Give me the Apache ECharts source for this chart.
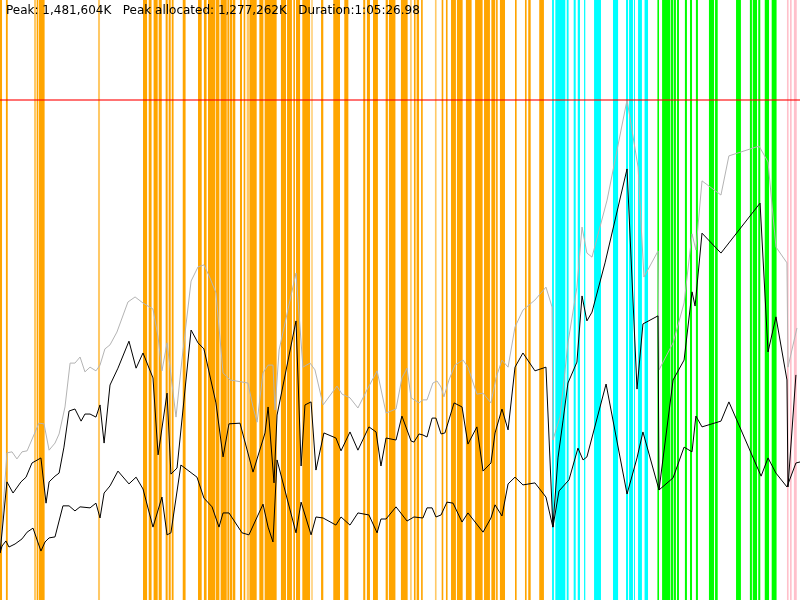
<!DOCTYPE html>
<html>
<head>
<meta charset="utf-8">
<script src="https://cdn.jsdelivr.net/npm/echarts@6/dist/echarts.min.js"></script>
<style>html,body{margin:0;padding:0;background:#fff}#c{width:800px;height:600px}</style>
</head>
<body>
<div id="c"></div>
<script>
// Summary values
const peakTotalMB = 1481.604;
const peakAllocMB = 1277.262;
const durationSec = 3926.98;
const headerTexts = ['Peak: 1,481,604K', 'Peak allocated: 1,277,262K', 'Duration:1:05:26.98'];

// Phase bands [startSec, endSec]
const orangeBands = [[0,10],[29,38],[180,188],[191,219],[702,722],[730,744],[754,774],[779,794],[813,823],[828,838],[843,852],[897,911],[972,990],[1001,1014],[1021,1057],[1060,1077],[1083,1113],[1116,1126],[1129,1139],[1142,1155],[1178,1188],[1196,1204],[1227,1260],[1273,1293],[1299,1358],[1379,1404],[1409,1433],[1440,1448],[1453,1473],[1484,1522],[1576,1587],[1636,1669],[1690,1710],[1783,1793],[1801,1816],[1831,1855],[1893,1904],[1909,1941],[1968,2001],[2032,2040],[2045,2057],[2067,2075],[2168,2176],[2189,2197],[2214,2238],[2243,2271],[2287,2315],[2332,2369],[2376,2405],[2412,2431],[2435,2443],[2454,2479],[2528,2536],[2577,2585],[2593,2605],[2647,2670]];
const faintOrangeBands = [[167,177],[481,491],[1211,1227],[1528,1535],[2013,2021],[2135,2143]];
const cyanBands = [[2710,2719],[2726,2775],[2782,2791],[2816,2826],[2836,2847],[2867,2873],[2916,2950],[3009,3034],[3073,3083],[3088,3107],[3112,3117],[3132,3151],[3164,3181]];
const greenBands = [[3227,3235],[3250,3289],[3292,3305],[3308,3318],[3323,3333],[3362,3372],[3387,3397],[3416,3426],[3480,3505],[3510,3523],[3613,3637],[3681,3691],[3695,3716],[3722,3732],[3754,3775],[3788,3812]];
const pinkBands = [[3863,3871],[3878,3886],[3897,3911]];

// Memory series [sec, MB]
const totalMemory = [[0,139],[34,436],[59,439],[83,418],[108,439],[133,442],[162,483],[191,524],[216,522],[241,444],[270,465],[290,492],[319,572],[344,702],[368,702],[393,720],[417,676],[442,690],[471,679],[491,696],[515,744],[540,756],[574,794],[628,883],[663,898],[702,880],[751,862],[776,779],[795,679],[820,762],[864,542],[893,711],[938,945],[972,987],[1001,993],[1031,954],[1060,910],[1095,673],[1129,652],[1217,643],[1242,572],[1262,527],[1291,673],[1316,696],[1340,696],[1350,563],[1370,741],[1453,969],[1487,690],[1522,702],[1546,682],[1586,578],[1654,634],[1679,610],[1718,599],[1757,569],[1801,622],[1851,679],[1895,554],[1944,566],[1973,658],[1998,687],[2018,599],[2057,584],[2076,593],[2096,593],[2125,643],[2145,649],[2165,631],[2179,602],[2204,652],[2233,696],[2273,711],[2297,690],[2341,610],[2371,613],[2410,584],[2435,658],[2464,711],[2494,690],[2528,809],[2567,859],[2626,889],[2680,927],[2710,868],[2714,474],[2749,542],[2788,762],[2832,927],[2857,1105],[2881,1028],[2906,1016],[2980,1185],[3078,1481.6],[3132,1283],[3161,957],[3230,1034],[3235,682],[3304,762],[3358,880],[3397,1085],[3416,1037],[3446,1242],[3539,1200],[3578,1316],[3726,1345],[3770,1298],[3809,1046],[3863,999],[3868,690],[3912,806]];
const allocatedMemory = [[0,139],[34,350],[64,317],[103,350],[128,364],[157,406],[201,421],[226,287],[241,350],[270,367],[290,376],[314,453],[339,560],[368,566],[398,530],[417,551],[442,551],[471,542],[491,578],[511,465],[540,637],[579,687],[633,767],[668,687],[702,732],[751,658],[776,430],[820,613],[839,373],[869,391],[938,800],[972,762],[1001,744],[1060,584],[1095,424],[1124,522],[1178,524],[1242,379],[1301,495],[1316,572],[1345,347],[1360,548],[1453,827],[1478,397],[1497,578],[1527,587],[1551,385],[1590,495],[1649,480],[1674,442],[1718,498],[1757,444],[1811,513],[1846,498],[1870,397],[1895,480],[1944,474],[1973,545],[2018,471],[2032,468],[2057,492],[2076,489],[2096,483],[2121,539],[2140,539],[2165,492],[2184,495],[2229,584],[2268,572],[2297,462],[2341,513],[2371,382],[2410,406],[2430,495],[2464,566],[2494,504],[2528,690],[2567,732],[2626,679],[2680,690],[2714,216],[2739,421],[2764,533],[2788,643],[2832,705],[2857,901],[2881,827],[2906,853],[2970,999],[3078,1277.3],[3127,625],[3156,818],[3230,842],[3235,326],[3304,652],[3358,711],[3397,913],[3412,871],[3446,1087],[3539,1028],[3731,1176],[3770,735],[3809,839],[3863,652],[3868,335],[3907,667]];
const liveMemory = [[0,139],[10,160],[29,175],[44,157],[74,166],[108,181],[133,201],[162,213],[201,145],[221,172],[241,184],[270,187],[309,279],[339,279],[368,264],[393,276],[442,273],[471,287],[491,243],[511,317],[540,338],[579,382],[633,344],[668,364],[702,329],[751,216],[795,305],[820,193],[839,199],[888,400],[967,364],[1001,302],[1041,276],[1075,216],[1095,258],[1124,258],[1188,199],[1222,193],[1291,284],[1316,216],[1340,172],[1360,415],[1453,199],[1478,290],[1487,293],[1527,193],[1551,246],[1586,243],[1649,222],[1674,246],[1718,222],[1757,258],[1811,252],[1851,199],[1870,240],[1895,240],[1944,276],[1998,234],[2032,246],[2076,243],[2096,273],[2121,273],[2140,246],[2165,252],[2194,290],[2224,287],[2268,231],[2297,258],[2371,201],[2410,243],[2430,282],[2464,249],[2494,344],[2528,364],[2567,341],[2626,347],[2680,305],[2714,216],[2744,323],[2793,356],[2837,450],[2862,415],[2881,424],[2975,640],[3078,314],[3127,421],[3156,498],[3235,326],[3304,362],[3358,453],[3397,439],[3416,545],[3446,513],[3539,530],[3578,587],[3736,367],[3770,421],[3809,376],[3863,335],[3907,406],[3927,409]];

const yMax = peakTotalMB * 1.2;

function bandSeries(bands, color) {
  return {
    type: 'custom', z: 1, silent: true, clip: true,
    encode: { x: [0, 1] },
    data: bands,
    renderItem: function (params, api) {
      const a = api.coord([api.value(0), yMax]);
      const b = api.coord([api.value(1), 0]);
      return { type: 'rect', shape: { x: a[0], y: a[1], width: Math.max(b[0] - a[0], 1), height: b[1] - a[1] }, style: { fill: color } };
    }
  };
}
function lineSeries(data, color, extra) {
  return Object.assign({
    type: 'line', z: 3, data: data, showSymbol: false, symbol: 'none', silent: true,
    lineStyle: { color: color, width: 1 }, itemStyle: { color: color }
  }, extra || {});
}

const chart = echarts.init(document.getElementById('c'));
chart.setOption({
  animation: false,
  backgroundColor: '#ffffff',
  title: {
    text: headerTexts.join('   '),
    left: 6, top: 5, padding: 0,
    textStyle: { fontFamily: 'DejaVu Sans', fontSize: 12, fontWeight: 'normal', color: '#000' }
  },
  grid: { left: 0, right: 0, top: 0, bottom: 0 },
  xAxis: { type: 'value', min: 0, max: durationSec, show: false },
  yAxis: { type: 'value', min: 0, max: yMax, show: false, splitLine: { show: false } },
  series: [
    bandSeries(orangeBands, '#FFA500'),
    bandSeries(faintOrangeBands, 'rgba(255,165,0,0.6)'),
    bandSeries(cyanBands, '#00FFFF'),
    bandSeries(greenBands, '#00FF00'),
    bandSeries(pinkBands, '#FFC0CB'),
    lineSeries(totalMemory, '#b4b4b4', {
      markLine: {
        silent: true, symbol: ['none', 'none'], label: { show: false },
        lineStyle: { color: 'rgba(255,0,0,0.55)', width: 2, type: 'solid' },
        data: [{ yAxis: peakTotalMB }]
      }
    }),
    lineSeries(allocatedMemory, '#000000'),
    lineSeries(liveMemory, '#000000')
  ]
});
</script>
</body>
</html>
